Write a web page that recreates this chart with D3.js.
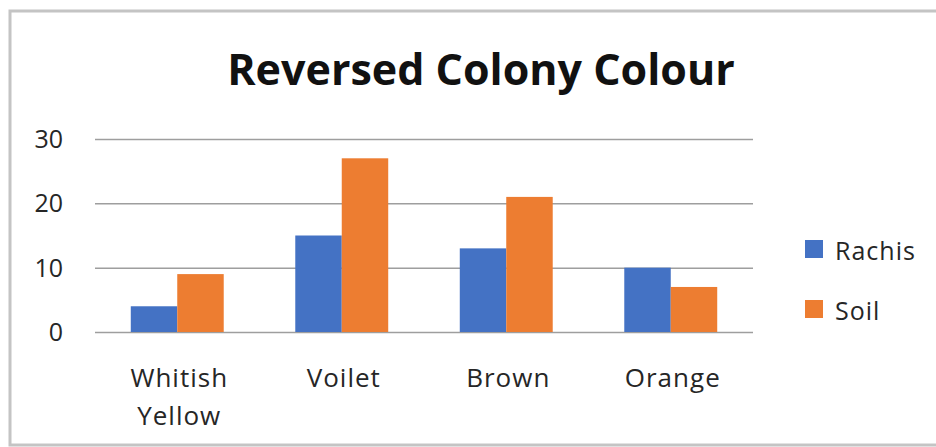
<!DOCTYPE html>
<html>
<head>
<meta charset="utf-8">
<script src="https://cdn.jsdelivr.net/npm/d3@7"></script>
<style>
  body { margin: 0; background: #fff; }
  text { font-family: "Open Sans", sans-serif; }
</style>
</head>
<body>
<svg id="chart" width="936" height="447"></svg>
<script>
// ---- data ----
const categories = [["Whitish", "Yellow"], ["Voilet"], ["Brown"], ["Orange"]];
const seriesNames = ["Rachis", "Soil"];
const rachis = [4, 15, 13, 10];
const soil = [9, 27, 21, 7];
const yTicks = [0, 10, 20, 30];

const colors = ["#4472C4", "#ED7D31"];

const svg = d3.select("#chart");

// frame
svg.append("rect")
  .attr("x", 10).attr("y", 11)
  .attr("width", 940).attr("height", 434)
  .attr("fill", "none")
  .attr("stroke", "#c4c4c4")
  .attr("stroke-width", 3);

// title
svg.append("text")
  .attr("x", 481).attr("y", 85)
  .attr("text-anchor", "middle")
  .attr("font-size", 43)
  .attr("font-weight", "bold")
  .attr("fill", "#111")
  .text("Reversed Colony Colour");

const margin = { left: 95, right: 753, top: 139, bottom: 332 };

const x0 = d3.scaleBand()
  .domain(d3.range(categories.length))
  .range([margin.left, margin.right])
  .paddingInner(0.435)
  .paddingOuter(0.2175);

const x1 = d3.scaleBand()
  .domain([0, 1])
  .range([0, x0.bandwidth()]);

const y = d3.scaleLinear()
  .domain([0, 30])
  .range([margin.bottom, margin.top]);

// grid
const grid = svg.append("g")
  .attr("transform", `translate(${margin.left},0)`)
  .call(d3.axisLeft(y).tickValues(yTicks).tickSize(-(margin.right - margin.left)).tickFormat(""));
grid.select(".domain").remove();
grid.selectAll("line").attr("stroke", "#9e9e9e").attr("stroke-width", 1.5);

// y labels
svg.append("g")
  .selectAll("text")
  .data(yTicks)
  .join("text")
  .attr("x", 63)
  .attr("y", d => y(d))
  .attr("dy", "0.36em")
  .attr("text-anchor", "end")
  .attr("font-size", 25)
  .attr("fill", "#262626")
  .text(d => d);

// bars
const rows = categories.map((c, i) => [rachis[i], soil[i]]);
svg.append("g")
  .selectAll("g")
  .data(rows)
  .join("g")
  .attr("transform", (d, i) => `translate(${x0(i)},0)`)
  .selectAll("rect")
  .data(d => d)
  .join("rect")
  .attr("x", (d, j) => x1(j))
  .attr("y", d => y(d))
  .attr("width", x1.bandwidth())
  .attr("height", d => y(0) - y(d))
  .attr("fill", (d, j) => colors[j]);

// x labels
svg.append("g")
  .selectAll("text")
  .data(categories)
  .join("text")
  .attr("x", (d, i) => x0(i) + x0.bandwidth() / 2 + 2)
  .attr("y", 387)
  .attr("text-anchor", "middle")
  .attr("font-size", 26)
  .attr("letter-spacing", 1)
  .attr("fill", "#262626")
  .selectAll("tspan")
  .data(d => d)
  .join("tspan")
  .attr("x", function() { return this.parentNode.getAttribute("x"); })
  .attr("dy", (d, k) => k === 0 ? 0 : 38)
  .text(d => d);

// legend
const legend = svg.append("g")
  .selectAll("g")
  .data(seriesNames)
  .join("g")
  .attr("transform", (d, i) => `translate(805,${240 + i * 60})`);
legend.append("rect")
  .attr("width", 18).attr("height", 18)
  .attr("fill", (d, i) => colors[i]);
legend.append("text")
  .attr("x", 30).attr("y", 20)
  .attr("font-size", 25)
  .attr("letter-spacing", 1)
  .attr("fill", "#262626")
  .text(d => d);
</script>
</body>
</html>
